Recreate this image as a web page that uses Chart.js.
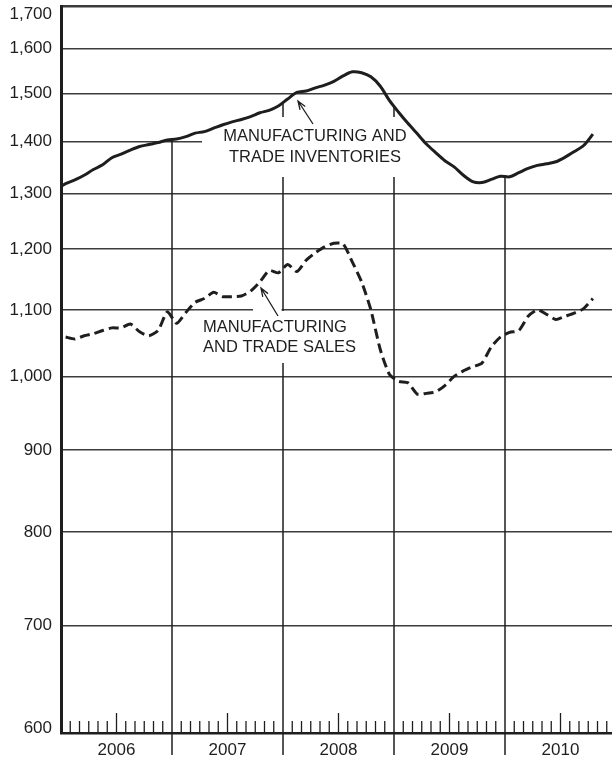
<!DOCTYPE html>
<html>
<head>
<meta charset="utf-8">
<script src="https://cdn.jsdelivr.net/npm/chart.js@4"></script>
<style>
  html, body { margin: 0; padding: 0; background: #fff; overflow: hidden; }
  #wrap { width: 612px; height: 761px; overflow: hidden; }
</style>
</head>
<body>
<div id="wrap"><canvas id="myChart" width="616" height="761"></canvas></div>
<script>
const years = ['2006', '2007', '2008', '2009', '2010'];
const yTicks = [600, 700, 800, 900, 1000, 1100, 1200, 1300, 1400, 1500, 1600, 1700];

// monthly, billions of dollars; inventories start Dec 2005, sales Jan 2006
const inventories = [1308,
  1318, 1325, 1334, 1345, 1354, 1368, 1375, 1383, 1390, 1394, 1398, 1403,
  1405, 1410, 1417, 1420, 1427, 1434, 1440, 1445, 1451, 1459, 1464, 1473,
  1488, 1502, 1505, 1512, 1518, 1526, 1538, 1547, 1545, 1536, 1516, 1485,
  1460, 1437, 1416, 1395, 1378, 1362, 1350, 1334, 1322, 1320, 1326, 1332,
  1331, 1339, 1347, 1353, 1356, 1360, 1369, 1380, 1392, 1415];
const sales = [
  1058, 1055, 1060, 1063, 1068, 1072, 1072, 1078, 1066, 1060, 1068, 1097,
  1079, 1096, 1112, 1118, 1128, 1121, 1121, 1122, 1130, 1145, 1164, 1160,
  1174, 1162, 1181, 1194, 1204, 1210, 1209, 1178, 1145, 1100, 1040, 1003,
  993, 991, 975, 976, 978, 987, 1000, 1008, 1014, 1019, 1043, 1058,
  1065, 1068, 1090, 1100, 1093, 1085, 1090, 1095, 1102, 1118];

const ink = '#1e1e1e';
const font = '"Liberation Sans", Arial, sans-serif';

const overlay = {
  id: 'overlay',
  beforeDatasetsDraw(chart) {
    const { ctx, chartArea: a, scales: { x } } = chart;
    const inv = chart.getDatasetMeta(0).data;
    ctx.save();
    // year dividers, from below the axis up to the inventories curve
    ctx.strokeStyle = ink;
    ctx.lineWidth = 1.5;
    for (let m = 12; m < 60; m += 12) {
      const px = x.getPixelForValue(m);
      let top = a.top;
      for (let k = 1; k < inv.length; k++) {
        if (inv[k].x >= px) {
          const p0 = inv[k - 1], p1 = inv[k];
          top = p0.y + (p1.y - p0.y) * (px - p0.x) / (p1.x - p0.x);
          break;
        }
      }
      ctx.beginPath();
      ctx.moveTo(px, a.bottom + 22);
      ctx.lineTo(px, top);
      ctx.stroke();
    }
    // clear space for the labels
    ctx.fillStyle = '#fff';
    ctx.fillRect(202, 117, 224, 60);
    ctx.fillRect(200, 311, 156, 52);
    ctx.fillRect(253, 305, 28.5, 10);
    ctx.restore();
  },
  afterDatasetsDraw(chart) {
    const { ctx, chartArea: a, scales: { x, y } } = chart;
    ctx.save();
    // month ticks
    ctx.strokeStyle = ink;
    ctx.lineWidth = 1.3;
    for (let m = 1; m < 60; m++) {
      if (m % 12 === 0) continue;
      const px = x.getPixelForValue(m);
      ctx.beginPath();
      ctx.moveTo(px, a.bottom);
      ctx.lineTo(px, a.bottom - (m % 12 === 6 ? 20 : 12));
      ctx.stroke();
    }
    // end labels of the y axis, kept inside the frame
    ctx.fillStyle = ink;
    ctx.font = '17px ' + font;
    ctx.textAlign = 'right';
    ctx.textBaseline = 'middle';
    ctx.fillText('1,700', a.left - 9, y.getPixelForValue(1700) + 8);
    ctx.fillText('600', a.left - 9, y.getPixelForValue(600) - 5);
    // annotations
    ctx.font = '16.5px ' + font;
    ctx.textAlign = 'center';
    ctx.fillText('MANUFACTURING AND', 315, 136);
    ctx.fillText('TRADE INVENTORIES', 315, 157);
    ctx.textAlign = 'left';
    ctx.fillText('MANUFACTURING', 203, 327);
    ctx.fillText('AND TRADE SALES', 203, 347);
    arrow(ctx, 313, 124, 298, 101);
    arrow(ctx, 278, 316, 261, 288);
    ctx.restore();
  }
};

function arrow(ctx, x0, y0, x1, y1) {
  const ang = Math.atan2(y1 - y0, x1 - x0);
  ctx.lineWidth = 1.3;
  ctx.beginPath();
  ctx.moveTo(x0, y0);
  ctx.lineTo(x1, y1);
  ctx.moveTo(x1 - 9 * Math.cos(ang - 0.35), y1 - 9 * Math.sin(ang - 0.35));
  ctx.lineTo(x1, y1);
  ctx.lineTo(x1 - 9 * Math.cos(ang + 0.35), y1 - 9 * Math.sin(ang + 0.35));
  ctx.stroke();
}

new Chart(document.getElementById('myChart'), {
  type: 'line',
  data: {
    datasets: [{
      label: 'Manufacturing and trade inventories',
      data: inventories.map((v, i) => ({ x: i - 0.5, y: v })),
      borderColor: ink,
      borderWidth: 3,
      pointRadius: 0,
      tension: 0.3
    }, {
      label: 'Manufacturing and trade sales',
      data: sales.map((v, i) => ({ x: i + 0.5, y: v })),
      borderColor: ink,
      borderWidth: 3,
      borderDash: [10, 5],
      pointRadius: 0,
      tension: 0.2
    }]
  },
  options: {
    responsive: false,
    animation: false,
    layout: { padding: { top: 6, left: 0, right: 0, bottom: 0 } },
    plugins: { legend: { display: false }, tooltip: { enabled: false } },
    scales: {
      x: {
        type: 'linear',
        min: 0,
        max: 60,
        afterBuildTicks: s => { s.ticks = years.map((yr, i) => ({ value: i * 12 + 6 })); },
        afterFit: s => { s.height = 28; s.paddingLeft = 0; s.paddingRight = 0; },
        ticks: {
          autoSkip: false,
          maxRotation: 0,
          padding: 7,
          color: ink,
          font: { size: 17, family: font },
          callback: v => years[(v - 6) / 12]
        },
        grid: { display: false, drawTicks: false },
        border: { color: ink, width: 2.5 }
      },
      y: {
        type: 'logarithmic',
        min: 600,
        max: 1700,
        afterBuildTicks: s => { s.ticks = yTicks.map(v => ({ value: v })); },
        afterFit: s => { s.width = 61; s.paddingTop = 0; s.paddingBottom = 0; },
        ticks: {
          padding: 9,
          color: ink,
          font: { size: 17, family: font },
          callback: v => (v === 600 || v === 1700) ? '' : v.toLocaleString('en-US')
        },
        grid: {
          drawTicks: false,
          color: '#3c3c3c',
          lineWidth: c => (c.tick && c.tick.value === 1700) ? 2.5 : 1.5
        },
        border: { color: ink, width: 3 }
      }
    }
  },
  plugins: [overlay]
});
</script>
</body>
</html>
